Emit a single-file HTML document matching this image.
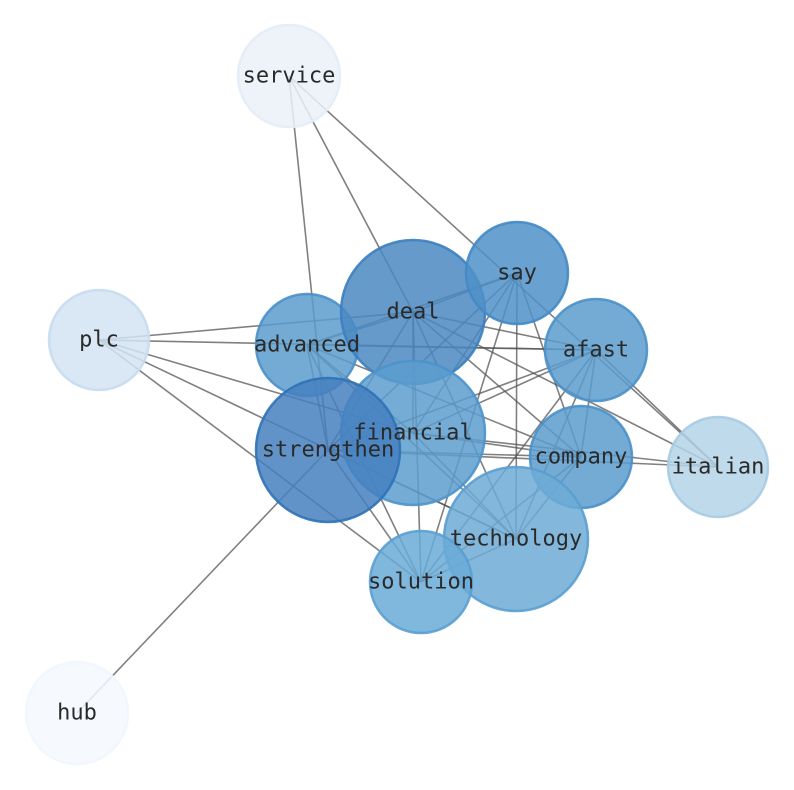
<!DOCTYPE html>
<html><head><meta charset="utf-8"><style>html,body{margin:0;background:#fff}svg{display:block}</style></head>
<body>
<svg width="794" height="790" viewBox="0 0 794 790" xmlns="http://www.w3.org/2000/svg">
<g stroke="#555" stroke-opacity="0.75" stroke-width="1.6">
<line x1="289" y1="76" x2="328" y2="450"/>
<line x1="289" y1="76" x2="413" y2="312"/>
<line x1="289" y1="76" x2="718" y2="467"/>
<line x1="99" y1="340" x2="413" y2="312"/>
<line x1="99" y1="340" x2="596" y2="350"/>
<line x1="99" y1="340" x2="413" y2="433"/>
<line x1="99" y1="340" x2="516" y2="539"/>
<line x1="99" y1="340" x2="421" y2="582"/>
<line x1="77" y1="713" x2="328" y2="450"/>
<line x1="413" y1="312" x2="517" y2="273"/>
<line x1="413" y1="312" x2="307" y2="345"/>
<line x1="413" y1="312" x2="596" y2="350"/>
<line x1="413" y1="312" x2="413" y2="433"/>
<line x1="413" y1="312" x2="328" y2="450"/>
<line x1="413" y1="312" x2="421" y2="582"/>
<line x1="413" y1="312" x2="516" y2="539"/>
<line x1="413" y1="312" x2="581" y2="457"/>
<line x1="413" y1="312" x2="718" y2="467"/>
<line x1="517" y1="273" x2="307" y2="345"/>
<line x1="517" y1="273" x2="328" y2="450"/>
<line x1="517" y1="273" x2="413" y2="433"/>
<line x1="517" y1="273" x2="581" y2="457"/>
<line x1="517" y1="273" x2="516" y2="539"/>
<line x1="517" y1="273" x2="421" y2="582"/>
<line x1="307" y1="345" x2="596" y2="350"/>
<line x1="307" y1="345" x2="328" y2="450"/>
<line x1="307" y1="345" x2="581" y2="457"/>
<line x1="307" y1="345" x2="516" y2="539"/>
<line x1="307" y1="345" x2="421" y2="582"/>
<line x1="307" y1="345" x2="413" y2="433"/>
<line x1="596" y1="350" x2="328" y2="450"/>
<line x1="596" y1="350" x2="413" y2="433"/>
<line x1="596" y1="350" x2="581" y2="457"/>
<line x1="596" y1="350" x2="516" y2="539"/>
<line x1="596" y1="350" x2="421" y2="582"/>
<line x1="596" y1="350" x2="718" y2="467"/>
<line x1="413" y1="433" x2="581" y2="457"/>
<line x1="413" y1="433" x2="516" y2="539"/>
<line x1="413" y1="433" x2="718" y2="467"/>
<line x1="328" y1="450" x2="581" y2="457"/>
<line x1="328" y1="450" x2="718" y2="467"/>
<line x1="328" y1="450" x2="516" y2="539"/>
<line x1="328" y1="450" x2="421" y2="582"/>
<line x1="581" y1="457" x2="516" y2="539"/>
<line x1="581" y1="457" x2="421" y2="582"/>
<line x1="516" y1="539" x2="421" y2="582"/>
</g>
<g stroke-width="2.5" fill-opacity="0.85" stroke-opacity="0.9">
<circle cx="289" cy="76" r="51" fill="#ebf1f9" stroke="#e3ecf7"/>
<circle cx="99" cy="340" r="50" fill="#d3e3f2" stroke="#c6dbef"/>
<circle cx="77" cy="713" r="51" fill="#f5f9fe" stroke="#f0f6fd"/>
<circle cx="718" cy="467" r="50" fill="#b4d3e6" stroke="#a6cbe3"/>
<circle cx="307" cy="345" r="51" fill="#5a9ccd" stroke="#4a90c9"/>
<circle cx="413" cy="312" r="72" fill="#4a88c2" stroke="#3b7fc0"/>
<circle cx="517" cy="273" r="51" fill="#4f91c8" stroke="#4289c5"/>
<circle cx="596" cy="350" r="51" fill="#5a9ccd" stroke="#4a90c9"/>
<circle cx="581" cy="457" r="51" fill="#5a9ccd" stroke="#4a90c9"/>
<circle cx="516" cy="539" r="72" fill="#6dacd6" stroke="#5a9fd0"/>
<circle cx="421" cy="582" r="51" fill="#6aaad6" stroke="#5a9fd0"/>
<circle cx="413" cy="433" r="72" fill="#5c9ecf" stroke="#4b93cc"/>
<circle cx="328" cy="450" r="72" fill="#4580c0" stroke="#2f72b6"/>
</g>
<g font-family="'DejaVu Sans Mono','Liberation Mono',monospace" font-size="22" fill="#2a2a2a" text-anchor="middle" dominant-baseline="central">
<text x="289" y="76">service</text>
<text x="99" y="340">plc</text>
<text x="77" y="713">hub</text>
<text x="718" y="467">italian</text>
<text x="307" y="345">advanced</text>
<text x="413" y="312">deal</text>
<text x="517" y="273">say</text>
<text x="596" y="350">afast</text>
<text x="581" y="457">company</text>
<text x="516" y="539">technology</text>
<text x="421" y="582">solution</text>
<text x="413" y="433">financial</text>
<text x="328" y="450">strengthen</text>
</g>
</svg>
</body></html>
